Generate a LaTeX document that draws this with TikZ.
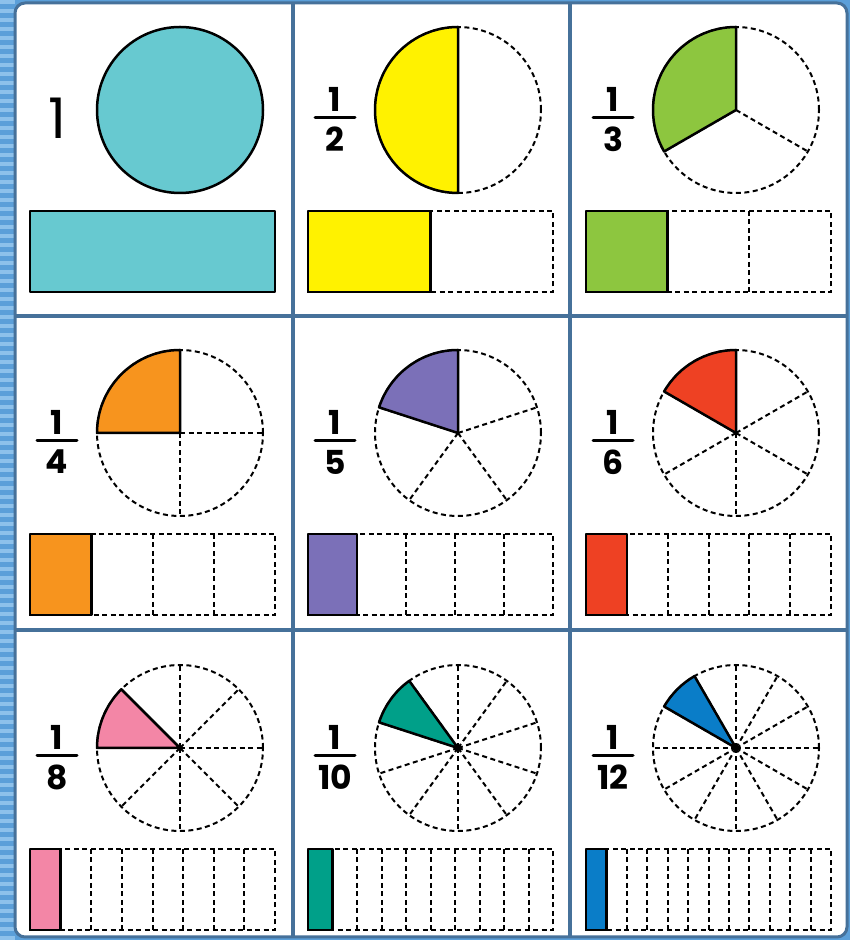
\documentclass[tikz,border=0pt]{standalone}
\usepackage{fontspec}
\usepackage{tikz}
\usetikzlibrary{positioning}
\newfontfamily\numfont{Poppins}

\definecolor{stripblue}{HTML}{5B9FD9}
\definecolor{stripband}{HTML}{8DC1EB}
\definecolor{frameblue}{HTML}{46719A}
\definecolor{wholecyan}{HTML}{67C9D0}
\definecolor{halfyellow}{HTML}{FFF200}
\definecolor{thirdgreen}{HTML}{8DC63F}
\definecolor{quarterorange}{HTML}{F7941E}
\definecolor{fifthpurple}{HTML}{7B70B8}
\definecolor{sixthred}{HTML}{EE4123}
\definecolor{eighthpink}{HTML}{F386A6}
\definecolor{tenthteal}{HTML}{00A089}
\definecolor{twelfthblue}{HTML}{0A7DC8}

\begin{document}
\begin{tikzpicture}[
        x=1pt, y=1pt,
        cutline/.style={draw=black, line width=2.5pt, line join=round},
        guide/.style={draw=black, line width=2pt, dash pattern=on 5pt off 3.5pt},
        gridline/.style={draw=frameblue, line width=4pt},
        numeral/.style={font=\numfont\bfseries\fontsize{33}{33}\selectfont, inner sep=0pt},
        fracbar/.style={line width=3pt, line cap=round}
    ]
        \useasboundingbox (0,0) rectangle (850,940);

        % Background strip
        \fill[stripblue] (0,0) rectangle (850,940);
        \foreach \y in {0,9,...,936}
            \fill[stripband] (0,\y) rectangle (15,\y+4);

        % Frame and grid
        \filldraw[fill=white, draw=frameblue, line width=3pt, rounded corners=10pt] (15,3) rectangle (847,937);
        \draw[gridline] (293,3) -- (293,937);
        \draw[gridline] (570,3) -- (570,937);
        \draw[gridline] (15,624) -- (847,624);
        \draw[gridline] (15,310) -- (847,310);

        % Whole
        \filldraw[cutline, fill=wholecyan] (180,830) circle (83);
        \filldraw[cutline, fill=wholecyan] (30,729) rectangle (275,648);
        \node[numeral, font=\numfont\fontsize{56}{56}\selectfont] (one) at (57,822) {1};

        % Fractions
        \foreach \cx/\cy/\n/\a/\col in {458/830/2/90/halfyellow, 736/830/3/90/thirdgreen,
                180/507/4/90/quarterorange, 458/507/5/90/fifthpurple, 736/507/6/90/sixthred,
                180/192/8/135/eighthpink, 458/192/10/126/tenthteal, 736/192/12/120/twelfthblue}
        {
            \pgfmathsetmacro\sweep{360/\n}
            \pgfmathsetmacro\cellw{245/\n}
            % circle
            \draw[guide] (\cx,\cy) circle (83);
            \foreach \k in {1,...,\n}
                \draw[guide] (\cx,\cy) -- ++(90+\k*\sweep:83);
            \filldraw[cutline, fill=\col] (\cx,\cy) -- ++(\a:83)
                arc[start angle=\a, delta angle=\sweep, radius=83] -- cycle;
            % strip
            \draw[guide] (\cx-150,\cy-101) rectangle (\cx+95,\cy-182);
            \foreach \k in {1,...,\n}{
                \ifnum\k<\n
                    \draw[guide] (\cx-150+\k*\cellw,\cy-101) -- (\cx-150+\k*\cellw,\cy-182);
                \fi
            }
            \filldraw[cutline, fill=\col] (\cx-150,\cy-101) rectangle ++(\cellw,-81);
            % label
            \draw[fracbar] (\cx-143,\cy-8) -- (\cx-103,\cy-8);
            \node[numeral, anchor=base] (num\n) at (\cx-123,\cy-2) {1};
            \node[numeral, anchor=north] (den\n) at (\cx-123,\cy-17) {\n};
        }
    \end{tikzpicture}
\end{document}
